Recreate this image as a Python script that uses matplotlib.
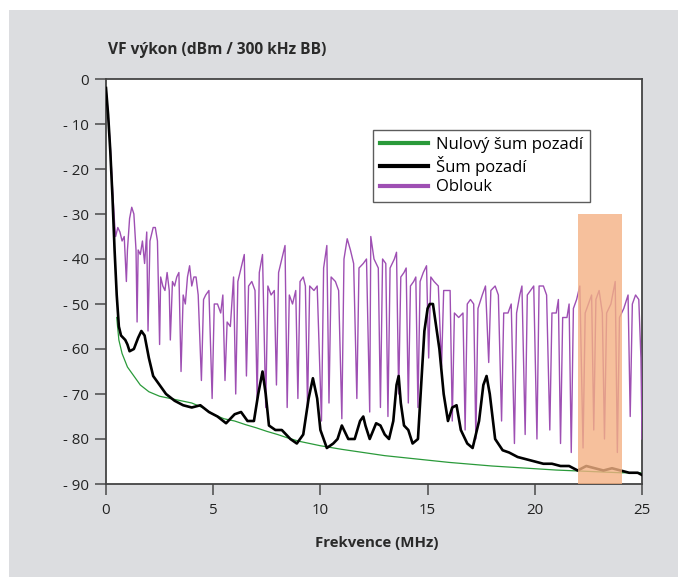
import matplotlib
matplotlib.use("Agg")
import matplotlib.pyplot as plt
from matplotlib.patches import Rectangle

plt.rcParams['font.family'] = ['Open Sans', 'DejaVu Sans']

# ---- data ----
oblouk_x = [0.00, 0.10, 0.20, 0.30, 0.40, 0.45, 0.55, 0.65, 0.75, 0.85, 0.95, 1.00, 1.10, 1.20, 1.30, 1.40, 1.45,
            1.50, 1.60, 1.70, 1.80, 1.90, 1.96, 2.05, 2.20, 2.30, 2.40, 2.50, 2.55, 2.65, 2.75, 2.85, 2.95,
            3.00, 3.10, 3.20, 3.30, 3.40, 3.50, 3.60, 3.70, 3.80, 3.90, 4.00, 4.10, 4.20, 4.30, 4.45, 4.55,
            4.65, 4.80, 4.95, 5.05, 5.20, 5.35, 5.45, 5.55, 5.65, 5.80, 5.95, 6.05, 6.15, 6.30, 6.45, 6.55,
            6.65, 6.80, 6.95, 7.05, 7.15, 7.30, 7.45, 7.55, 7.70, 7.85, 7.95, 8.05, 8.20, 8.35, 8.45, 8.55,
            8.70, 8.85, 8.95, 9.05, 9.20, 9.30, 9.40, 9.50, 9.70, 9.85, 10.05, 10.15, 10.30, 10.40, 10.50,
            10.70, 10.85, 11.00, 11.10, 11.25, 11.40, 11.55, 11.70, 11.80, 12.00, 12.15, 12.30, 12.35, 12.50,
            12.70, 12.80, 12.90, 13.05, 13.15, 13.25, 13.45, 13.55, 13.65, 13.75, 13.90, 14.00, 14.10, 14.20,
            14.35, 14.45, 14.55, 14.65, 14.80, 14.95, 15.05, 15.15, 15.30, 15.50, 15.65, 15.75, 15.90, 16.05,
            16.15, 16.25, 16.45, 16.65, 16.75, 16.85, 17.00, 17.15, 17.25, 17.35, 17.55, 17.70, 17.85, 17.95,
            18.15, 18.30, 18.45, 18.55, 18.75, 18.90, 19.05, 19.15, 19.30, 19.40, 19.55, 19.65, 19.80, 19.95,
            20.10, 20.20, 20.40, 20.55, 20.70, 20.80, 21.00, 21.10, 21.20, 21.30, 21.50, 21.60, 21.70, 21.80,
            21.95, 22.10, 22.25, 22.35, 22.50, 22.65, 22.75, 22.85, 23.00, 23.15, 23.25, 23.35, 23.55, 23.75,
            23.85, 23.95, 24.15, 24.35, 24.45, 24.55, 24.70, 24.85, 24.95, 25.00]
oblouk_y = [-2, -8, -15, -24, -32, -35, -33, -34, -36, -35, -45, -38, -31, -28.5, -30, -38, -54,
            -38, -39, -36, -41, -34, -56, -36, -33, -33, -36, -59, -44, -46, -47, -43, -47,
            -58, -45, -46, -44, -43, -65, -48, -50, -44, -41.5, -46, -44, -44, -48, -67, -49,
            -48, -47, -71, -50, -50, -52, -48, -67, -54, -55, -44, -70, -45, -42, -39, -66,
            -46, -45, -47, -71, -43, -39, -73, -46, -48, -47, -68, -43, -40, -37, -73, -48,
            -50, -47, -71, -45, -44, -46, -73, -46, -47, -46, -76, -42, -37, -72, -44,
            -45, -47, -75.5, -40, -35.5, -38, -41, -71, -42, -41, -40, -74, -35, -40,
            -42, -73, -40, -41, -75, -42, -40, -38.5, -70, -44, -43, -42, -72, -46,
            -45, -44, -73, -45, -43, -41.5, -62, -44, -45, -46, -64, -47, -47, -47,
            -76, -52, -53, -52, -78, -50, -49, -50, -80, -51, -48, -46, -63, -47,
            -46, -48, -76, -52, -52, -50, -81, -52, -48, -46, -79, -48, -47, -46,
            -80, -46, -46, -48, -78, -52, -52, -49, -81, -53, -53, -50, -83, -51,
            -49, -46, -82, -52, -50, -48, -78, -49, -47, -52, -80, -52, -50, -45,
            -83, -53, -51, -48, -75, -50, -48, -49, -62, -80]

sum_x = [0.0, 0.1, 0.2, 0.3, 0.4, 0.5, 0.6, 0.7, 0.9, 1.0,
         1.1, 1.3, 1.5, 1.65, 1.8, 2.0, 2.2, 2.5, 2.8, 3.2,
         3.6, 4.0, 4.4, 4.8, 5.2, 5.6, 6.0, 6.3, 6.6, 6.9,
         7.1, 7.3, 7.45, 7.6, 7.9, 8.2, 8.6, 8.9, 9.2, 9.45,
         9.65, 9.85, 10.0, 10.3, 10.6, 10.8, 11.0, 11.3, 11.6, 11.85,
         12.0, 12.1, 12.3, 12.6, 12.8, 13.0, 13.2, 13.4, 13.55, 13.65,
         13.75, 13.9, 14.1, 14.3, 14.55, 14.7, 14.85, 15.0, 15.1, 15.25,
         15.4, 15.55, 15.75, 15.95, 16.15, 16.35, 16.55, 16.85, 17.1, 17.4,
         17.6, 17.75, 17.9, 18.15, 18.5, 18.8, 19.2, 19.6, 20.0, 20.4,
         20.8, 21.2, 21.6, 22.0, 22.4, 22.8, 23.2, 23.6, 24.0, 24.4,
         24.8, 25.0]
sum_y = [-2, -8, -16, -26, -38, -48, -55, -57, -58, -59,
         -60.5, -60, -57.5, -56, -57, -62, -66, -68, -70, -71.5,
         -72.5, -73, -72.5, -74, -75, -76.5, -74.5, -74, -76, -76,
         -70, -65, -70, -77, -78, -78, -80, -81, -79, -71,
         -66.5, -71, -78, -82, -81, -80, -77, -80, -80, -76,
         -75, -77, -80, -76.5, -77, -79, -80, -76, -68, -66,
         -72, -77, -78, -81, -80, -68, -56, -51, -50, -50,
         -55, -60, -70, -76, -73, -72.5, -78, -81, -82, -76,
         -68, -66, -70, -80, -82.5, -83, -84, -84.5, -85, -85.5,
         -85.5, -86, -86, -87, -86, -86.5, -87, -86.5, -87, -87.5,
         -87.5, -88]

nulovy_x = [0.50, 0.60, 0.75, 1.0, 1.3, 1.6, 2.0, 2.5, 3.0, 3.5, 4.0, 4.5, 5.0, 5.5, 6.0, 6.5, 7.0,
            7.5, 8.0, 8.5, 9.0, 9.5, 10.0, 11.0, 12.0, 13.0, 14.0, 15.0, 16.0, 17.0, 18.0, 19.0,
            20.0, 21.0, 22.0, 23.0, 24.0, 25.0]
nulovy_y = [-53, -58, -61, -64, -66, -68, -69.5, -70.5, -71, -71.5, -72, -73, -74.5, -75.5, -76, -76.8, -77.5,
            -78.3, -79, -79.8, -80.5, -81, -81.5, -82.3, -83, -83.7, -84.2, -84.7, -85.2, -85.6, -86, -86.3,
            -86.6, -86.9, -87.1, -87.3, -87.5, -87.5]

x_ticks = [0, 5, 10, 15, 20, 25]
y_ticks = [0, -10, -20, -30, -40, -50, -60, -70, -80, -90]
y_ticklabels = ["0", "- 10", "- 20", "- 30", "- 40", "- 50", "- 60", "- 70", "- 80", "- 90"]
highlight_range = (22.0, 24.05)
highlight_top = -30

# ---- figure ----
W, H = 678, 577
fig = plt.figure(figsize=(W / 100, H / 100), dpi=100)
fig.patch.set_facecolor('white')
fig.patches.append(Rectangle((9 / W, 0), 1 - 9 / W, 1 - 10 / H, transform=fig.transFigure,
                             facecolor='#dcdde0', edgecolor='none', zorder=-10))

ax = fig.add_axes([106 / W, 1 - 484 / H, (642 - 106) / W, (484 - 79) / H])
ax.set_zorder(1)
ax.set_facecolor('white')

ax.plot(nulovy_x, nulovy_y, color='#2a9a3a', lw=0.9, zorder=2, label='Nulový šum pozadí')
ax.plot(sum_x, sum_y, color='black', lw=1.9, zorder=4, label='Šum pozadí')
ax.plot(oblouk_x, oblouk_y, color='#9e4fb3', lw=1.0, zorder=3, label='Oblouk')

ax.add_patch(Rectangle((highlight_range[0], -90), highlight_range[1] - highlight_range[0],
                       highlight_top + 90, facecolor='#f4b183', edgecolor='none', alpha=0.8, zorder=5))

ax.set_xlim(0, 25)
ax.set_ylim(-90, 0)
ax.set_xticks(x_ticks)
ax.set_xticklabels([str(t) for t in x_ticks])
ax.set_yticks(y_ticks)
ax.set_yticklabels(y_ticklabels)
ax.tick_params(direction='out', length=8, width=1.2, color='#555555', labelsize=10.8,
               labelcolor='#222222')
ax.tick_params(axis='y', pad=4)
ax.tick_params(axis='x', pad=6)
for s in ax.spines.values():
    s.set_color('#444444')
    s.set_linewidth(1.3)

fig.text(108 / W, 1 - 50 / H, 'VF výkon (dBm / 300 kHz BB)', fontsize=11.2, fontweight='bold',
         color='#2a2a2a', ha='left', va='center')
fig.text(377 / W, 1 - 543 / H, 'Frekvence (MHz)', fontsize=10.8, fontweight='bold',
         color='#2a2a2a', ha='center', va='center')

leg = ax.legend(loc='upper left', bbox_to_anchor=((373 - 106) / (642 - 106), 1 - (130 - 79) / (484 - 79)),
                frameon=True, fancybox=False, fontsize=12, handlelength=2.9, handletextpad=0.5,
                borderpad=0.4, labelspacing=0.2, borderaxespad=0)
leg.get_frame().set_edgecolor('#333333')
leg.get_frame().set_linewidth(1.0)
for line in leg.get_lines():
    line.set_linewidth(3)
leg.set_zorder(10)

fig.savefig('out.png', dpi=100)
